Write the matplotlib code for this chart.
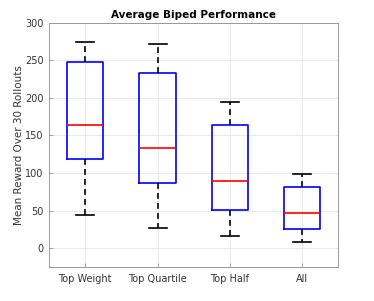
import numpy as np
import matplotlib ; matplotlib.use('Agg')
from matplotlib import pyplot as plt

# Box statistics
groups = ['Top Weight', 'Top Quartile', 'Top Half', 'All']
whislo = [44, 27, 16, 8.5]
q1 = [119, 87, 50.5, 25]
med = [164, 133, 89, 47]
q3 = [247.5, 233, 164, 82]
whishi = [274, 271, 194, 99]

stats = []
for i in range(len(groups)):
    stats.append(dict(label=groups[i], whislo=whislo[i], q1=q1[i], med=med[i],
                      q3=q3[i], whishi=whishi[i], fliers=[]))

plt.rcParams['font.family'] = 'DejaVu Sans'
fig = plt.figure(figsize=(3.74, 3.01), dpi=100)
ax = fig.add_axes([0.131, 0.113, 0.774, 0.812])

ax.bxp(stats, widths=0.5, showfliers=False,
       boxprops=dict(color='#0000ff', lw=1.2),
       medianprops=dict(color='#ff0000', lw=1.2),
       whiskerprops=dict(color='black', lw=1.2, ls=(0, (3.5, 2.5))),
       capprops=dict(color='black', lw=1.2), capwidths=0.25)

ax.set_xlim(0.5, 4.5) ; ax.set_ylim(-25, 300)
ax.set_yticks(np.arange(0, 301, 50))
ax.grid(True, color='#e6e6e6', lw=0.6)
ax.set_axisbelow(True)
for s in ax.spines.values():
    s.set_color('#999999') ; s.set_linewidth(0.7)
ax.tick_params(labelsize=7, colors='#333333', length=3, width=0.6, direction='in', pad=4)
ax.tick_params(axis='x', pad=5)
ax.tick_params(axis='both', color='#999999')
ax.set_ylabel('Mean Reward Over 30 Rollouts', fontsize=7.5, color='#333333')
ax.yaxis.set_label_coords(-0.085, 0.5)
ax.set_title('Average Biped Performance', fontsize=7.5, fontweight='bold', pad=3)

plt.savefig('out.png', dpi=100)
